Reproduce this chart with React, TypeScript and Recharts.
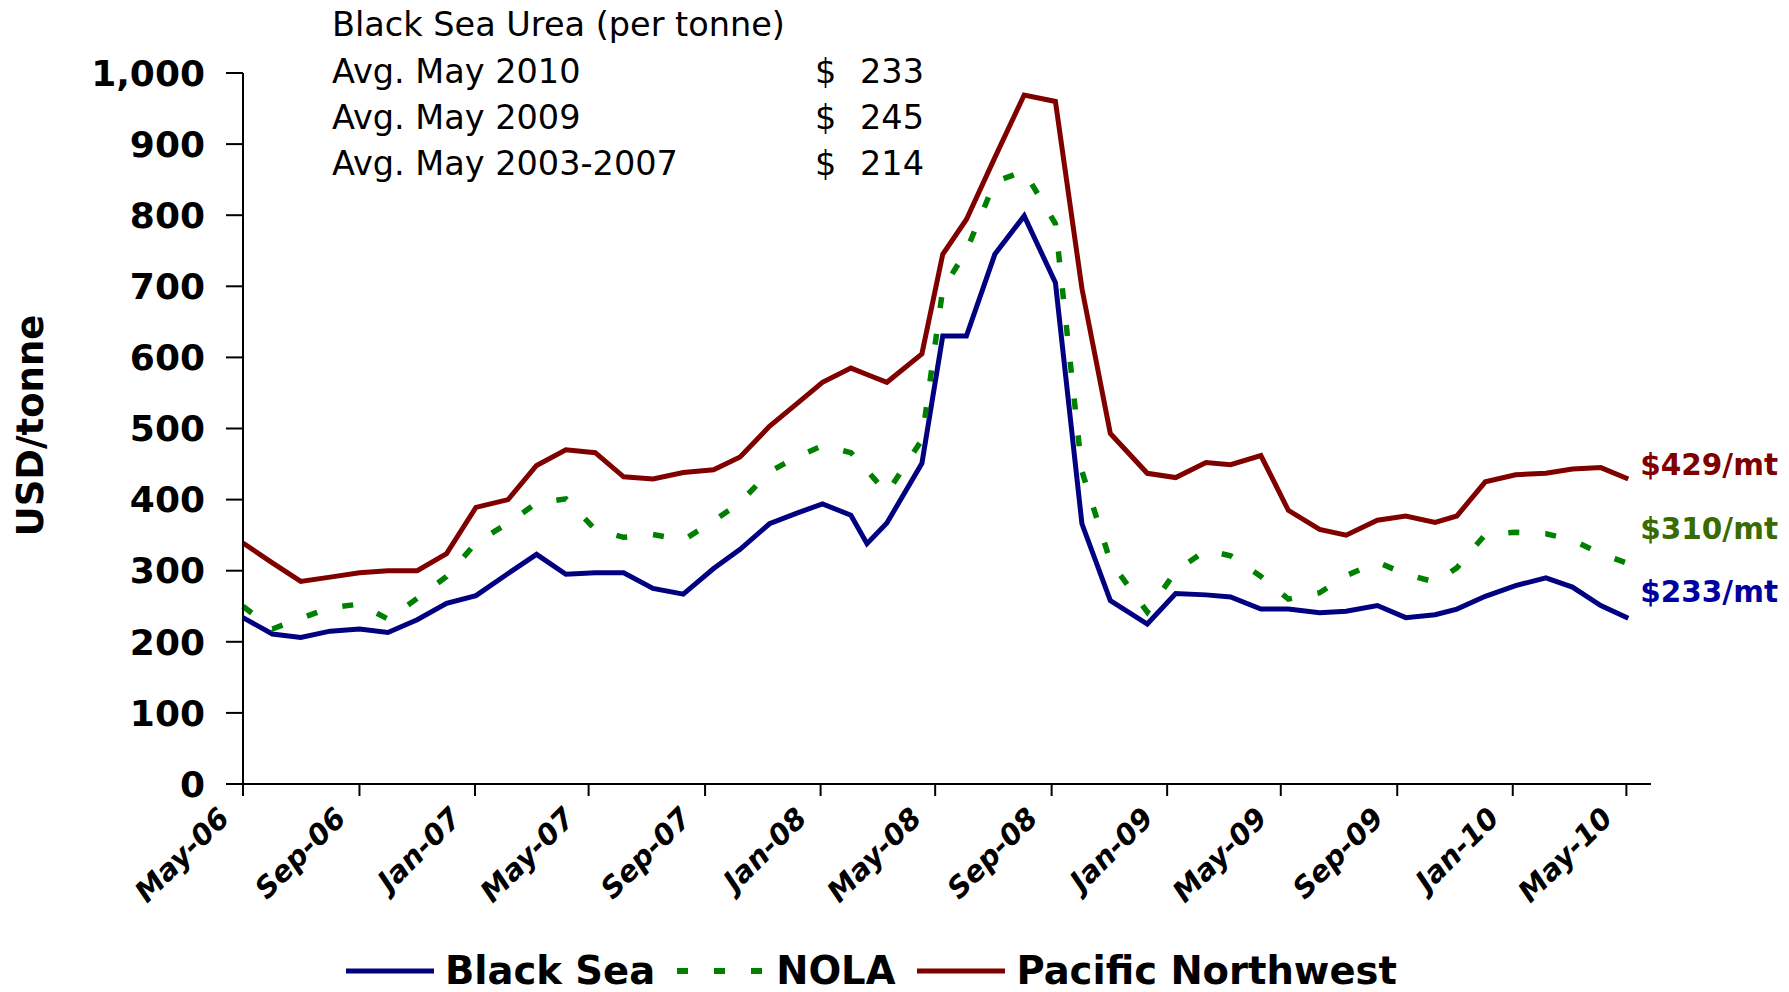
import React from 'react'
import { LineChart, Line, XAxis, YAxis, Label } from 'recharts'

// sample dates (irregular in 2008-09)
const dates = [
  '2006-05-01', '2006-06-01', '2006-07-01', '2006-08-01', '2006-09-01', '2006-10-01', '2006-11-01',
  '2006-12-02', '2007-01-02', '2007-02-05', '2007-03-07', '2007-04-07', '2007-05-08', '2007-06-07',
  '2007-07-08', '2007-08-09', '2007-09-10', '2007-10-08', '2007-11-08', '2007-12-07', '2008-01-03',
  '2008-02-02', '2008-02-19', '2008-03-11', '2008-04-17', '2008-05-09', '2008-06-03', '2008-07-03',
  '2008-08-03', '2008-09-05', '2008-10-03', '2008-11-02', '2008-12-11',
  '2009-01-10', '2009-02-11', '2009-03-09', '2009-04-10', '2009-05-09', '2009-06-11', '2009-07-09',
  '2009-08-11', '2009-09-10', '2009-10-11', '2009-11-03', '2009-12-03',
  '2010-01-04', '2010-02-05', '2010-03-05', '2010-04-04', '2010-05-03',
]

const blackSea = [
  234, 211, 206, 215, 218, 213, 231,
  254, 265, 296, 323, 295, 297, 297, 275, 267, 303, 330, 366, 381, 394,
  378, 338, 367, 451, 630, 630, 745, 799, 705, 366, 258, 225,
  268, 266, 263, 246, 246, 241, 243, 251, 234, 238, 246, 264,
  279, 290, 277, 251, 233,
]

const nola = [
  250, 218, 233, 248, 253, 232, 261,
  292, 339, 367, 395, 401, 358, 347, 351, 343, 370, 396, 439, 460, 476,
  466, 441, 409, 484, 696, 750, 847, 862, 788, 440, 313, 242,
  299, 329, 321, 292, 260, 269, 293, 312, 295, 284, 304, 351,
  354, 352, 343, 324, 310,
]

const pacificNW = [
  339, 311, 285, 291, 297, 300, 300,
  324, 389, 400, 448, 470, 466, 432, 429, 438, 442, 460, 503, 535, 565,
  585, 576, 565, 605, 745, 794, 881, 969, 960, 697, 493, 437,
  431, 452, 449, 462, 385, 358, 350, 371, 377, 368, 377, 425,
  435, 437, 443, 445, 429,
]

const tickDates = [
  '2006-05-01', '2006-09-01', '2007-01-01', '2007-05-01', '2007-09-01', '2008-01-01', '2008-05-01',
  '2008-09-01', '2009-01-01', '2009-05-01', '2009-09-01', '2010-01-01', '2010-05-01',
]
const tickLabels = [
  'May-06', 'Sep-06', 'Jan-07', 'May-07', 'Sep-07', 'Jan-08', 'May-08',
  'Sep-08', 'Jan-09', 'May-09', 'Sep-09', 'Jan-10', 'May-10',
]
const axisStart = '2006-05-01'
const axisEnd = '2010-05-27'
const yTicks = [0, 100, 200, 300, 400, 500, 600, 700, 800, 900, 1000]

const boxTitle = 'Black Sea Urea (per tonne)'
const avgLabels = ['Avg. May 2010', 'Avg. May 2009', 'Avg. May 2003-2007']
const avgValues = [233, 245, 214]

const toTime = (d: string) => Date.parse(d + 'T00:00:00Z')

const data = dates.map((d, i) => ({
  t: toTime(d),
  blackSea: blackSea[i],
  nola: nola[i],
  pacificNW: pacificNW[i],
}))
const xTicks = tickDates.map(toTime)
const last = data.length - 1

const series = [
  { key: 'blackSea', name: 'Black Sea', color: '#000080', labelColor: '#0000A0', dash: undefined, labelDy: -16, values: blackSea },
  { key: 'nola', name: 'NOLA', color: '#008000', labelColor: '#3A6B00', dash: '11 26', labelDy: -25, values: nola },
  { key: 'pacificNW', name: 'Pacific Northwest', color: '#800000', labelColor: '#800000', dash: undefined, labelDy: -4, values: pacificNW },
]

const FONT = 'DejaVu Sans, Verdana, sans-serif'

function XTick({ x, y, payload }: any) {
  const idx = xTicks.indexOf(payload.value)
  return (
    <g transform={`translate(${x - 12},${y + 22})`}>
      <text
        transform="rotate(-45)"
        textAnchor="end"
        fontFamily={FONT}
        fontWeight="bold"
        fontStyle="italic"
        fontSize={29}
        fill="#000"
      >
        {idx >= 0 ? tickLabels[idx] : ''}
      </text>
    </g>
  )
}

function endLabel(text: string, color: string, dy: number) {
  return (props: any) => {
    if (props.index !== last) return <g />
    return (
      <text x={props.x + 12} y={props.y + dy} fill={color} fontFamily={FONT} fontWeight="bold" fontSize={29.5}>
        {text}
      </text>
    )
  }
}

function YTitle({ viewBox }: any) {
  const cy = viewBox.y + viewBox.height / 2 - 3
  return (
    <text
      x={43}
      y={cy}
      transform={`rotate(-90, 43, ${cy})`}
      textAnchor="middle"
      fontFamily={FONT}
      fontWeight="bold"
      fontSize={37}
      fill="#000"
    >
      USD/tonne
    </text>
  )
}

const headerText: React.CSSProperties = {
  position: 'absolute',
  fontFamily: FONT,
  fontSize: 33.5,
  lineHeight: '40px',
  color: '#000',
  whiteSpace: 'nowrap',
}

export default function App() {
  return (
    <div style={{ position: 'absolute', left: 0, top: 0, width: 1789, height: 992, background: '#fff', overflow: 'hidden' }}>
      <LineChart width={1789} height={992} data={data} margin={{ top: 73, right: 138, bottom: 58, left: 0 }}>
        <XAxis
          dataKey="t"
          type="number"
          scale="time"
          domain={[toTime(axisStart), toTime(axisEnd)]}
          ticks={xTicks}
          interval={0}
          height={150}
          axisLine={{ stroke: '#000', strokeWidth: 2 }}
          tickLine={{ stroke: '#000', strokeWidth: 2 }}
          tickSize={12}
          tick={<XTick />}
        />
        <YAxis
          type="number"
          domain={[0, 1000]}
          ticks={yTicks}
          interval={0}
          width={243}
          axisLine={{ stroke: '#000', strokeWidth: 2 }}
          tickLine={{ stroke: '#000', strokeWidth: 2 }}
          tickSize={17}
          tickMargin={21}
          tickFormatter={(v: number) => v.toLocaleString('en-US')}
          tick={{ fill: '#000', fontFamily: FONT, fontWeight: 'bold', fontSize: 36 }}
        >
          <Label content={<YTitle />} />
        </YAxis>
        {series.map((s) => (
          <Line
            key={s.key}
            type="linear"
            dataKey={s.key}
            name={s.name}
            stroke={s.color}
            strokeWidth={s.dash ? 5.5 : 5}
            strokeDasharray={s.dash}
            strokeLinejoin="miter"
            dot={false}
            activeDot={false}
            isAnimationActive={false}
            label={endLabel(`$${s.values[last]}/mt`, s.labelColor, s.labelDy)}
          />
        ))}
      </LineChart>

      <div style={{ ...headerText, left: 332, top: 5 }}>{boxTitle}</div>
      {avgLabels.map((l, i) => (
        <React.Fragment key={l}>
          <div style={{ ...headerText, left: 332, top: 52 + i * 46 }}>{l}</div>
          <div style={{ ...headerText, left: 815, top: 52 + i * 46 }}>$</div>
          <div style={{ ...headerText, left: 824, width: 100, textAlign: 'right', top: 52 + i * 46 }}>{avgValues[i]}</div>
        </React.Fragment>
      ))}

      <div
        style={{
          position: 'absolute',
          left: 346,
          top: 949,
          height: 43,
          display: 'flex',
          alignItems: 'center',
          fontFamily: FONT,
          fontWeight: 'bold',
          fontSize: 38.5,
          lineHeight: '43px',
          whiteSpace: 'nowrap',
        }}
      >
        {series.map((s, i) => (
          <div key={s.key} style={{ display: 'flex', alignItems: 'center', marginLeft: i === 0 ? 0 : 22 }}>
            <svg width={88} height={12} style={{ marginRight: 11 }}>
              <line x1={0} y1={6} x2={88} y2={6} stroke={s.color} strokeWidth={s.dash ? 6 : 5} strokeDasharray={s.dash} />
            </svg>
            <span>{s.name}</span>
          </div>
        ))}
      </div>
    </div>
  )
}
